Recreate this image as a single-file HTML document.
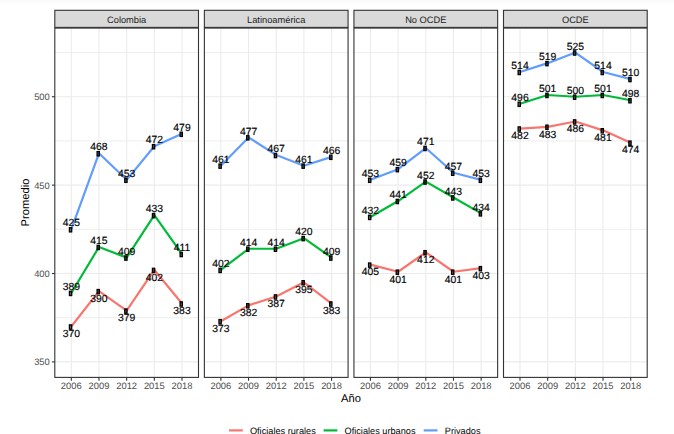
<!DOCTYPE html>
<html><head><meta charset="utf-8"><style>
html,body{margin:0;padding:0;background:#fff;}
svg{display:block;}
text{font-family:"Liberation Sans",sans-serif;text-rendering:geometricPrecision;}
</style></head><body>
<svg width="674" height="434" viewBox="0 0 674 434">
<rect x="0" y="0" width="674" height="434" fill="#fff"/>
<rect x="0" y="0" width="674" height="1" fill="#fafafa"/><rect x="0" y="1" width="674" height="3" fill="#fcfcfc"/>
<line x1="54.80" x2="198.50" y1="317.71" y2="317.71" stroke="#EBEBEB" stroke-width="0.9"/>
<line x1="54.80" x2="198.50" y1="229.32" y2="229.32" stroke="#EBEBEB" stroke-width="0.9"/>
<line x1="54.80" x2="198.50" y1="140.94" y2="140.94" stroke="#EBEBEB" stroke-width="0.9"/>
<line x1="54.80" x2="198.50" y1="52.55" y2="52.55" stroke="#EBEBEB" stroke-width="0.9"/>
<line x1="54.80" x2="198.50" y1="361.90" y2="361.90" stroke="#EBEBEB" stroke-width="1.1"/>
<line x1="54.80" x2="198.50" y1="273.51" y2="273.51" stroke="#EBEBEB" stroke-width="1.1"/>
<line x1="54.80" x2="198.50" y1="185.13" y2="185.13" stroke="#EBEBEB" stroke-width="1.1"/>
<line x1="54.80" x2="198.50" y1="96.74" y2="96.74" stroke="#EBEBEB" stroke-width="1.1"/>
<line x1="71.30" x2="71.30" y1="28.10" y2="377.40" stroke="#EBEBEB" stroke-width="1.1"/>
<line x1="98.97" x2="98.97" y1="28.10" y2="377.40" stroke="#EBEBEB" stroke-width="1.1"/>
<line x1="126.65" x2="126.65" y1="28.10" y2="377.40" stroke="#EBEBEB" stroke-width="1.1"/>
<line x1="154.32" x2="154.32" y1="28.10" y2="377.40" stroke="#EBEBEB" stroke-width="1.1"/>
<line x1="182.00" x2="182.00" y1="28.10" y2="377.40" stroke="#EBEBEB" stroke-width="1.1"/>
<polyline points="71.30,326.55 98.97,291.19 126.65,310.64 154.32,269.98 182.00,303.57" fill="none" stroke="#F8766D" stroke-width="2.2" stroke-linejoin="round" stroke-linecap="butt"/>
<polyline points="71.30,292.96 98.97,247.00 126.65,257.61 154.32,215.18 182.00,254.07" fill="none" stroke="#00BA38" stroke-width="2.2" stroke-linejoin="round" stroke-linecap="butt"/>
<polyline points="71.30,229.32 98.97,153.31 126.65,179.83 154.32,146.24 182.00,133.87" fill="none" stroke="#619CFF" stroke-width="2.2" stroke-linejoin="round" stroke-linecap="butt"/>
<rect x="69.40" y="324.85" width="2.3" height="4.3" fill="#000" fill-opacity="0.6" stroke="#000" stroke-width="1.25"/>
<rect x="97.07" y="289.49" width="2.3" height="4.3" fill="#000" fill-opacity="0.6" stroke="#000" stroke-width="1.25"/>
<rect x="124.75" y="308.94" width="2.3" height="4.3" fill="#000" fill-opacity="0.6" stroke="#000" stroke-width="1.25"/>
<rect x="152.42" y="268.28" width="2.3" height="4.3" fill="#000" fill-opacity="0.6" stroke="#000" stroke-width="1.25"/>
<rect x="180.10" y="301.87" width="2.3" height="4.3" fill="#000" fill-opacity="0.6" stroke="#000" stroke-width="1.25"/>
<rect x="69.40" y="291.26" width="2.3" height="4.3" fill="#000" fill-opacity="0.6" stroke="#000" stroke-width="1.25"/>
<rect x="97.07" y="245.30" width="2.3" height="4.3" fill="#000" fill-opacity="0.6" stroke="#000" stroke-width="1.25"/>
<rect x="124.75" y="255.91" width="2.3" height="4.3" fill="#000" fill-opacity="0.6" stroke="#000" stroke-width="1.25"/>
<rect x="152.42" y="213.48" width="2.3" height="4.3" fill="#000" fill-opacity="0.6" stroke="#000" stroke-width="1.25"/>
<rect x="180.10" y="252.37" width="2.3" height="4.3" fill="#000" fill-opacity="0.6" stroke="#000" stroke-width="1.25"/>
<rect x="69.40" y="227.62" width="2.3" height="4.3" fill="#000" fill-opacity="0.6" stroke="#000" stroke-width="1.25"/>
<rect x="97.07" y="151.61" width="2.3" height="4.3" fill="#000" fill-opacity="0.6" stroke="#000" stroke-width="1.25"/>
<rect x="124.75" y="178.13" width="2.3" height="4.3" fill="#000" fill-opacity="0.6" stroke="#000" stroke-width="1.25"/>
<rect x="152.42" y="144.54" width="2.3" height="4.3" fill="#000" fill-opacity="0.6" stroke="#000" stroke-width="1.25"/>
<rect x="180.10" y="132.17" width="2.3" height="4.3" fill="#000" fill-opacity="0.6" stroke="#000" stroke-width="1.25"/>
<text x="71.30" y="337" font-size="10.4" text-rendering="geometricPrecision" text-anchor="middle" fill="#000" stroke="#000" stroke-width="0.15">370</text>
<text x="98.97" y="302" font-size="10.4" text-rendering="geometricPrecision" text-anchor="middle" fill="#000" stroke="#000" stroke-width="0.15">390</text>
<text x="126.65" y="321" font-size="10.4" text-rendering="geometricPrecision" text-anchor="middle" fill="#000" stroke="#000" stroke-width="0.15">379</text>
<text x="154.32" y="281" font-size="10.4" text-rendering="geometricPrecision" text-anchor="middle" fill="#000" stroke="#000" stroke-width="0.15">402</text>
<text x="182.00" y="314" font-size="10.4" text-rendering="geometricPrecision" text-anchor="middle" fill="#000" stroke="#000" stroke-width="0.15">383</text>
<text x="71.30" y="290" font-size="10.4" text-rendering="geometricPrecision" text-anchor="middle" fill="#000" stroke="#000" stroke-width="0.15">389</text>
<text x="98.97" y="244" font-size="10.4" text-rendering="geometricPrecision" text-anchor="middle" fill="#000" stroke="#000" stroke-width="0.15">415</text>
<text x="126.65" y="255" font-size="10.4" text-rendering="geometricPrecision" text-anchor="middle" fill="#000" stroke="#000" stroke-width="0.15">409</text>
<text x="154.32" y="212" font-size="10.4" text-rendering="geometricPrecision" text-anchor="middle" fill="#000" stroke="#000" stroke-width="0.15">433</text>
<text x="182.00" y="251" font-size="10.4" text-rendering="geometricPrecision" text-anchor="middle" fill="#000" stroke="#000" stroke-width="0.15">411</text>
<text x="71.30" y="226" font-size="10.4" text-rendering="geometricPrecision" text-anchor="middle" fill="#000" stroke="#000" stroke-width="0.15">425</text>
<text x="98.97" y="150" font-size="10.4" text-rendering="geometricPrecision" text-anchor="middle" fill="#000" stroke="#000" stroke-width="0.15">468</text>
<text x="126.65" y="177" font-size="10.4" text-rendering="geometricPrecision" text-anchor="middle" fill="#000" stroke="#000" stroke-width="0.15">453</text>
<text x="154.32" y="143" font-size="10.4" text-rendering="geometricPrecision" text-anchor="middle" fill="#000" stroke="#000" stroke-width="0.15">472</text>
<text x="182.00" y="131" font-size="10.4" text-rendering="geometricPrecision" text-anchor="middle" fill="#000" stroke="#000" stroke-width="0.15">479</text>
<rect x="54.80" y="28.10" width="143.70" height="349.30" fill="none" stroke="#333333" stroke-width="1.1"/>
<rect x="54.80" y="10.30" width="143.70" height="17.10" fill="#D9D9D9" stroke="#333333" stroke-width="1.1"/>
<text x="126.65" y="23.0" font-size="9.3" text-rendering="geometricPrecision" text-anchor="middle" fill="#1A1A1A">Colombia</text>
<line x1="71.30" x2="71.30" y1="377.40" y2="380.70" stroke="#333333" stroke-width="1.1"/>
<text x="71.30" y="388.7" font-size="9.4" text-anchor="middle" fill="#4D4D4D">2006</text>
<line x1="98.97" x2="98.97" y1="377.40" y2="380.70" stroke="#333333" stroke-width="1.1"/>
<text x="98.97" y="388.7" font-size="9.4" text-anchor="middle" fill="#4D4D4D">2009</text>
<line x1="126.65" x2="126.65" y1="377.40" y2="380.70" stroke="#333333" stroke-width="1.1"/>
<text x="126.65" y="388.7" font-size="9.4" text-anchor="middle" fill="#4D4D4D">2012</text>
<line x1="154.32" x2="154.32" y1="377.40" y2="380.70" stroke="#333333" stroke-width="1.1"/>
<text x="154.32" y="388.7" font-size="9.4" text-anchor="middle" fill="#4D4D4D">2015</text>
<line x1="182.00" x2="182.00" y1="377.40" y2="380.70" stroke="#333333" stroke-width="1.1"/>
<text x="182.00" y="388.7" font-size="9.4" text-anchor="middle" fill="#4D4D4D">2018</text>
<line x1="204.37" x2="348.07" y1="317.71" y2="317.71" stroke="#EBEBEB" stroke-width="0.9"/>
<line x1="204.37" x2="348.07" y1="229.32" y2="229.32" stroke="#EBEBEB" stroke-width="0.9"/>
<line x1="204.37" x2="348.07" y1="140.94" y2="140.94" stroke="#EBEBEB" stroke-width="0.9"/>
<line x1="204.37" x2="348.07" y1="52.55" y2="52.55" stroke="#EBEBEB" stroke-width="0.9"/>
<line x1="204.37" x2="348.07" y1="361.90" y2="361.90" stroke="#EBEBEB" stroke-width="1.1"/>
<line x1="204.37" x2="348.07" y1="273.51" y2="273.51" stroke="#EBEBEB" stroke-width="1.1"/>
<line x1="204.37" x2="348.07" y1="185.13" y2="185.13" stroke="#EBEBEB" stroke-width="1.1"/>
<line x1="204.37" x2="348.07" y1="96.74" y2="96.74" stroke="#EBEBEB" stroke-width="1.1"/>
<line x1="220.87" x2="220.87" y1="28.10" y2="377.40" stroke="#EBEBEB" stroke-width="1.1"/>
<line x1="248.55" x2="248.55" y1="28.10" y2="377.40" stroke="#EBEBEB" stroke-width="1.1"/>
<line x1="276.22" x2="276.22" y1="28.10" y2="377.40" stroke="#EBEBEB" stroke-width="1.1"/>
<line x1="303.90" x2="303.90" y1="28.10" y2="377.40" stroke="#EBEBEB" stroke-width="1.1"/>
<line x1="331.57" x2="331.57" y1="28.10" y2="377.40" stroke="#EBEBEB" stroke-width="1.1"/>
<polyline points="220.87,321.24 248.55,305.33 276.22,296.50 303.90,282.35 331.57,303.57" fill="none" stroke="#F8766D" stroke-width="2.2" stroke-linejoin="round" stroke-linecap="butt"/>
<polyline points="220.87,269.98 248.55,248.77 276.22,248.77 303.90,238.16 331.57,257.61" fill="none" stroke="#00BA38" stroke-width="2.2" stroke-linejoin="round" stroke-linecap="butt"/>
<polyline points="220.87,165.69 248.55,137.40 276.22,155.08 303.90,165.69 331.57,156.85" fill="none" stroke="#619CFF" stroke-width="2.2" stroke-linejoin="round" stroke-linecap="butt"/>
<rect x="218.97" y="319.54" width="2.3" height="4.3" fill="#000" fill-opacity="0.6" stroke="#000" stroke-width="1.25"/>
<rect x="246.65" y="303.63" width="2.3" height="4.3" fill="#000" fill-opacity="0.6" stroke="#000" stroke-width="1.25"/>
<rect x="274.32" y="294.80" width="2.3" height="4.3" fill="#000" fill-opacity="0.6" stroke="#000" stroke-width="1.25"/>
<rect x="302.00" y="280.65" width="2.3" height="4.3" fill="#000" fill-opacity="0.6" stroke="#000" stroke-width="1.25"/>
<rect x="329.67" y="301.87" width="2.3" height="4.3" fill="#000" fill-opacity="0.6" stroke="#000" stroke-width="1.25"/>
<rect x="218.97" y="268.28" width="2.3" height="4.3" fill="#000" fill-opacity="0.6" stroke="#000" stroke-width="1.25"/>
<rect x="246.65" y="247.07" width="2.3" height="4.3" fill="#000" fill-opacity="0.6" stroke="#000" stroke-width="1.25"/>
<rect x="274.32" y="247.07" width="2.3" height="4.3" fill="#000" fill-opacity="0.6" stroke="#000" stroke-width="1.25"/>
<rect x="302.00" y="236.46" width="2.3" height="4.3" fill="#000" fill-opacity="0.6" stroke="#000" stroke-width="1.25"/>
<rect x="329.67" y="255.91" width="2.3" height="4.3" fill="#000" fill-opacity="0.6" stroke="#000" stroke-width="1.25"/>
<rect x="218.97" y="163.99" width="2.3" height="4.3" fill="#000" fill-opacity="0.6" stroke="#000" stroke-width="1.25"/>
<rect x="246.65" y="135.70" width="2.3" height="4.3" fill="#000" fill-opacity="0.6" stroke="#000" stroke-width="1.25"/>
<rect x="274.32" y="153.38" width="2.3" height="4.3" fill="#000" fill-opacity="0.6" stroke="#000" stroke-width="1.25"/>
<rect x="302.00" y="163.99" width="2.3" height="4.3" fill="#000" fill-opacity="0.6" stroke="#000" stroke-width="1.25"/>
<rect x="329.67" y="155.15" width="2.3" height="4.3" fill="#000" fill-opacity="0.6" stroke="#000" stroke-width="1.25"/>
<text x="220.87" y="332" font-size="10.4" text-rendering="geometricPrecision" text-anchor="middle" fill="#000" stroke="#000" stroke-width="0.15">373</text>
<text x="248.55" y="316" font-size="10.4" text-rendering="geometricPrecision" text-anchor="middle" fill="#000" stroke="#000" stroke-width="0.15">382</text>
<text x="276.22" y="307" font-size="10.4" text-rendering="geometricPrecision" text-anchor="middle" fill="#000" stroke="#000" stroke-width="0.15">387</text>
<text x="303.90" y="293" font-size="10.4" text-rendering="geometricPrecision" text-anchor="middle" fill="#000" stroke="#000" stroke-width="0.15">395</text>
<text x="331.57" y="314" font-size="10.4" text-rendering="geometricPrecision" text-anchor="middle" fill="#000" stroke="#000" stroke-width="0.15">383</text>
<text x="220.87" y="267" font-size="10.4" text-rendering="geometricPrecision" text-anchor="middle" fill="#000" stroke="#000" stroke-width="0.15">402</text>
<text x="248.55" y="246" font-size="10.4" text-rendering="geometricPrecision" text-anchor="middle" fill="#000" stroke="#000" stroke-width="0.15">414</text>
<text x="276.22" y="246" font-size="10.4" text-rendering="geometricPrecision" text-anchor="middle" fill="#000" stroke="#000" stroke-width="0.15">414</text>
<text x="303.90" y="235" font-size="10.4" text-rendering="geometricPrecision" text-anchor="middle" fill="#000" stroke="#000" stroke-width="0.15">420</text>
<text x="331.57" y="255" font-size="10.4" text-rendering="geometricPrecision" text-anchor="middle" fill="#000" stroke="#000" stroke-width="0.15">409</text>
<text x="220.87" y="163" font-size="10.4" text-rendering="geometricPrecision" text-anchor="middle" fill="#000" stroke="#000" stroke-width="0.15">461</text>
<text x="248.55" y="135" font-size="10.4" text-rendering="geometricPrecision" text-anchor="middle" fill="#000" stroke="#000" stroke-width="0.15">477</text>
<text x="276.22" y="152" font-size="10.4" text-rendering="geometricPrecision" text-anchor="middle" fill="#000" stroke="#000" stroke-width="0.15">467</text>
<text x="303.90" y="163" font-size="10.4" text-rendering="geometricPrecision" text-anchor="middle" fill="#000" stroke="#000" stroke-width="0.15">461</text>
<text x="331.57" y="154" font-size="10.4" text-rendering="geometricPrecision" text-anchor="middle" fill="#000" stroke="#000" stroke-width="0.15">466</text>
<rect x="204.37" y="28.10" width="143.70" height="349.30" fill="none" stroke="#333333" stroke-width="1.1"/>
<rect x="204.37" y="10.30" width="143.70" height="17.10" fill="#D9D9D9" stroke="#333333" stroke-width="1.1"/>
<text x="276.22" y="23.0" font-size="9.3" text-rendering="geometricPrecision" text-anchor="middle" fill="#1A1A1A">Latinoamérica</text>
<line x1="220.87" x2="220.87" y1="377.40" y2="380.70" stroke="#333333" stroke-width="1.1"/>
<text x="220.87" y="388.7" font-size="9.4" text-anchor="middle" fill="#4D4D4D">2006</text>
<line x1="248.55" x2="248.55" y1="377.40" y2="380.70" stroke="#333333" stroke-width="1.1"/>
<text x="248.55" y="388.7" font-size="9.4" text-anchor="middle" fill="#4D4D4D">2009</text>
<line x1="276.22" x2="276.22" y1="377.40" y2="380.70" stroke="#333333" stroke-width="1.1"/>
<text x="276.22" y="388.7" font-size="9.4" text-anchor="middle" fill="#4D4D4D">2012</text>
<line x1="303.90" x2="303.90" y1="377.40" y2="380.70" stroke="#333333" stroke-width="1.1"/>
<text x="303.90" y="388.7" font-size="9.4" text-anchor="middle" fill="#4D4D4D">2015</text>
<line x1="331.57" x2="331.57" y1="377.40" y2="380.70" stroke="#333333" stroke-width="1.1"/>
<text x="331.57" y="388.7" font-size="9.4" text-anchor="middle" fill="#4D4D4D">2018</text>
<line x1="353.94" x2="497.64" y1="317.71" y2="317.71" stroke="#EBEBEB" stroke-width="0.9"/>
<line x1="353.94" x2="497.64" y1="229.32" y2="229.32" stroke="#EBEBEB" stroke-width="0.9"/>
<line x1="353.94" x2="497.64" y1="140.94" y2="140.94" stroke="#EBEBEB" stroke-width="0.9"/>
<line x1="353.94" x2="497.64" y1="52.55" y2="52.55" stroke="#EBEBEB" stroke-width="0.9"/>
<line x1="353.94" x2="497.64" y1="361.90" y2="361.90" stroke="#EBEBEB" stroke-width="1.1"/>
<line x1="353.94" x2="497.64" y1="273.51" y2="273.51" stroke="#EBEBEB" stroke-width="1.1"/>
<line x1="353.94" x2="497.64" y1="185.13" y2="185.13" stroke="#EBEBEB" stroke-width="1.1"/>
<line x1="353.94" x2="497.64" y1="96.74" y2="96.74" stroke="#EBEBEB" stroke-width="1.1"/>
<line x1="370.44" x2="370.44" y1="28.10" y2="377.40" stroke="#EBEBEB" stroke-width="1.1"/>
<line x1="398.11" x2="398.11" y1="28.10" y2="377.40" stroke="#EBEBEB" stroke-width="1.1"/>
<line x1="425.79" x2="425.79" y1="28.10" y2="377.40" stroke="#EBEBEB" stroke-width="1.1"/>
<line x1="453.46" x2="453.46" y1="28.10" y2="377.40" stroke="#EBEBEB" stroke-width="1.1"/>
<line x1="481.14" x2="481.14" y1="28.10" y2="377.40" stroke="#EBEBEB" stroke-width="1.1"/>
<polyline points="370.44,264.68 398.11,271.75 425.79,252.30 453.46,271.75 481.14,268.21" fill="none" stroke="#F8766D" stroke-width="2.2" stroke-linejoin="round" stroke-linecap="butt"/>
<polyline points="370.44,216.95 398.11,201.04 425.79,181.59 453.46,197.50 481.14,213.41" fill="none" stroke="#00BA38" stroke-width="2.2" stroke-linejoin="round" stroke-linecap="butt"/>
<polyline points="370.44,179.83 398.11,169.22 425.79,148.01 453.46,172.76 481.14,179.83" fill="none" stroke="#619CFF" stroke-width="2.2" stroke-linejoin="round" stroke-linecap="butt"/>
<rect x="368.54" y="262.98" width="2.3" height="4.3" fill="#000" fill-opacity="0.6" stroke="#000" stroke-width="1.25"/>
<rect x="396.21" y="270.05" width="2.3" height="4.3" fill="#000" fill-opacity="0.6" stroke="#000" stroke-width="1.25"/>
<rect x="423.89" y="250.60" width="2.3" height="4.3" fill="#000" fill-opacity="0.6" stroke="#000" stroke-width="1.25"/>
<rect x="451.56" y="270.05" width="2.3" height="4.3" fill="#000" fill-opacity="0.6" stroke="#000" stroke-width="1.25"/>
<rect x="479.24" y="266.51" width="2.3" height="4.3" fill="#000" fill-opacity="0.6" stroke="#000" stroke-width="1.25"/>
<rect x="368.54" y="215.25" width="2.3" height="4.3" fill="#000" fill-opacity="0.6" stroke="#000" stroke-width="1.25"/>
<rect x="396.21" y="199.34" width="2.3" height="4.3" fill="#000" fill-opacity="0.6" stroke="#000" stroke-width="1.25"/>
<rect x="423.89" y="179.89" width="2.3" height="4.3" fill="#000" fill-opacity="0.6" stroke="#000" stroke-width="1.25"/>
<rect x="451.56" y="195.80" width="2.3" height="4.3" fill="#000" fill-opacity="0.6" stroke="#000" stroke-width="1.25"/>
<rect x="479.24" y="211.71" width="2.3" height="4.3" fill="#000" fill-opacity="0.6" stroke="#000" stroke-width="1.25"/>
<rect x="368.54" y="178.13" width="2.3" height="4.3" fill="#000" fill-opacity="0.6" stroke="#000" stroke-width="1.25"/>
<rect x="396.21" y="167.52" width="2.3" height="4.3" fill="#000" fill-opacity="0.6" stroke="#000" stroke-width="1.25"/>
<rect x="423.89" y="146.31" width="2.3" height="4.3" fill="#000" fill-opacity="0.6" stroke="#000" stroke-width="1.25"/>
<rect x="451.56" y="171.06" width="2.3" height="4.3" fill="#000" fill-opacity="0.6" stroke="#000" stroke-width="1.25"/>
<rect x="479.24" y="178.13" width="2.3" height="4.3" fill="#000" fill-opacity="0.6" stroke="#000" stroke-width="1.25"/>
<text x="370.44" y="275" font-size="10.4" text-rendering="geometricPrecision" text-anchor="middle" fill="#000" stroke="#000" stroke-width="0.15">405</text>
<text x="398.11" y="283" font-size="10.4" text-rendering="geometricPrecision" text-anchor="middle" fill="#000" stroke="#000" stroke-width="0.15">401</text>
<text x="425.79" y="263" font-size="10.4" text-rendering="geometricPrecision" text-anchor="middle" fill="#000" stroke="#000" stroke-width="0.15">412</text>
<text x="453.46" y="283" font-size="10.4" text-rendering="geometricPrecision" text-anchor="middle" fill="#000" stroke="#000" stroke-width="0.15">401</text>
<text x="481.14" y="279" font-size="10.4" text-rendering="geometricPrecision" text-anchor="middle" fill="#000" stroke="#000" stroke-width="0.15">403</text>
<text x="370.44" y="214" font-size="10.4" text-rendering="geometricPrecision" text-anchor="middle" fill="#000" stroke="#000" stroke-width="0.15">432</text>
<text x="398.11" y="198" font-size="10.4" text-rendering="geometricPrecision" text-anchor="middle" fill="#000" stroke="#000" stroke-width="0.15">441</text>
<text x="425.79" y="179" font-size="10.4" text-rendering="geometricPrecision" text-anchor="middle" fill="#000" stroke="#000" stroke-width="0.15">452</text>
<text x="453.46" y="195" font-size="10.4" text-rendering="geometricPrecision" text-anchor="middle" fill="#000" stroke="#000" stroke-width="0.15">443</text>
<text x="481.14" y="211" font-size="10.4" text-rendering="geometricPrecision" text-anchor="middle" fill="#000" stroke="#000" stroke-width="0.15">434</text>
<text x="370.44" y="177" font-size="10.4" text-rendering="geometricPrecision" text-anchor="middle" fill="#000" stroke="#000" stroke-width="0.15">453</text>
<text x="398.11" y="166" font-size="10.4" text-rendering="geometricPrecision" text-anchor="middle" fill="#000" stroke="#000" stroke-width="0.15">459</text>
<text x="425.79" y="145" font-size="10.4" text-rendering="geometricPrecision" text-anchor="middle" fill="#000" stroke="#000" stroke-width="0.15">471</text>
<text x="453.46" y="170" font-size="10.4" text-rendering="geometricPrecision" text-anchor="middle" fill="#000" stroke="#000" stroke-width="0.15">457</text>
<text x="481.14" y="177" font-size="10.4" text-rendering="geometricPrecision" text-anchor="middle" fill="#000" stroke="#000" stroke-width="0.15">453</text>
<rect x="353.94" y="28.10" width="143.70" height="349.30" fill="none" stroke="#333333" stroke-width="1.1"/>
<rect x="353.94" y="10.30" width="143.70" height="17.10" fill="#D9D9D9" stroke="#333333" stroke-width="1.1"/>
<text x="425.79" y="23.0" font-size="9.3" text-rendering="geometricPrecision" text-anchor="middle" fill="#1A1A1A">No OCDE</text>
<line x1="370.44" x2="370.44" y1="377.40" y2="380.70" stroke="#333333" stroke-width="1.1"/>
<text x="370.44" y="388.7" font-size="9.4" text-anchor="middle" fill="#4D4D4D">2006</text>
<line x1="398.11" x2="398.11" y1="377.40" y2="380.70" stroke="#333333" stroke-width="1.1"/>
<text x="398.11" y="388.7" font-size="9.4" text-anchor="middle" fill="#4D4D4D">2009</text>
<line x1="425.79" x2="425.79" y1="377.40" y2="380.70" stroke="#333333" stroke-width="1.1"/>
<text x="425.79" y="388.7" font-size="9.4" text-anchor="middle" fill="#4D4D4D">2012</text>
<line x1="453.46" x2="453.46" y1="377.40" y2="380.70" stroke="#333333" stroke-width="1.1"/>
<text x="453.46" y="388.7" font-size="9.4" text-anchor="middle" fill="#4D4D4D">2015</text>
<line x1="481.14" x2="481.14" y1="377.40" y2="380.70" stroke="#333333" stroke-width="1.1"/>
<text x="481.14" y="388.7" font-size="9.4" text-anchor="middle" fill="#4D4D4D">2018</text>
<line x1="503.51" x2="647.21" y1="317.71" y2="317.71" stroke="#EBEBEB" stroke-width="0.9"/>
<line x1="503.51" x2="647.21" y1="229.32" y2="229.32" stroke="#EBEBEB" stroke-width="0.9"/>
<line x1="503.51" x2="647.21" y1="140.94" y2="140.94" stroke="#EBEBEB" stroke-width="0.9"/>
<line x1="503.51" x2="647.21" y1="52.55" y2="52.55" stroke="#EBEBEB" stroke-width="0.9"/>
<line x1="503.51" x2="647.21" y1="361.90" y2="361.90" stroke="#EBEBEB" stroke-width="1.1"/>
<line x1="503.51" x2="647.21" y1="273.51" y2="273.51" stroke="#EBEBEB" stroke-width="1.1"/>
<line x1="503.51" x2="647.21" y1="185.13" y2="185.13" stroke="#EBEBEB" stroke-width="1.1"/>
<line x1="503.51" x2="647.21" y1="96.74" y2="96.74" stroke="#EBEBEB" stroke-width="1.1"/>
<line x1="520.01" x2="520.01" y1="28.10" y2="377.40" stroke="#EBEBEB" stroke-width="1.1"/>
<line x1="547.69" x2="547.69" y1="28.10" y2="377.40" stroke="#EBEBEB" stroke-width="1.1"/>
<line x1="575.36" x2="575.36" y1="28.10" y2="377.40" stroke="#EBEBEB" stroke-width="1.1"/>
<line x1="603.03" x2="603.03" y1="28.10" y2="377.40" stroke="#EBEBEB" stroke-width="1.1"/>
<line x1="630.71" x2="630.71" y1="28.10" y2="377.40" stroke="#EBEBEB" stroke-width="1.1"/>
<polyline points="520.01,128.56 547.69,126.80 575.36,121.49 603.03,130.33 630.71,142.71" fill="none" stroke="#F8766D" stroke-width="2.2" stroke-linejoin="round" stroke-linecap="butt"/>
<polyline points="520.01,103.82 547.69,94.98 575.36,96.74 603.03,94.98 630.71,100.28" fill="none" stroke="#00BA38" stroke-width="2.2" stroke-linejoin="round" stroke-linecap="butt"/>
<polyline points="520.01,72.00 547.69,63.16 575.36,52.55 603.03,72.00 630.71,79.07" fill="none" stroke="#619CFF" stroke-width="2.2" stroke-linejoin="round" stroke-linecap="butt"/>
<rect x="518.11" y="126.86" width="2.3" height="4.3" fill="#000" fill-opacity="0.6" stroke="#000" stroke-width="1.25"/>
<rect x="545.79" y="125.10" width="2.3" height="4.3" fill="#000" fill-opacity="0.6" stroke="#000" stroke-width="1.25"/>
<rect x="573.46" y="119.79" width="2.3" height="4.3" fill="#000" fill-opacity="0.6" stroke="#000" stroke-width="1.25"/>
<rect x="601.13" y="128.63" width="2.3" height="4.3" fill="#000" fill-opacity="0.6" stroke="#000" stroke-width="1.25"/>
<rect x="628.81" y="141.01" width="2.3" height="4.3" fill="#000" fill-opacity="0.6" stroke="#000" stroke-width="1.25"/>
<rect x="518.11" y="102.12" width="2.3" height="4.3" fill="#000" fill-opacity="0.6" stroke="#000" stroke-width="1.25"/>
<rect x="545.79" y="93.28" width="2.3" height="4.3" fill="#000" fill-opacity="0.6" stroke="#000" stroke-width="1.25"/>
<rect x="573.46" y="95.04" width="2.3" height="4.3" fill="#000" fill-opacity="0.6" stroke="#000" stroke-width="1.25"/>
<rect x="601.13" y="93.28" width="2.3" height="4.3" fill="#000" fill-opacity="0.6" stroke="#000" stroke-width="1.25"/>
<rect x="628.81" y="98.58" width="2.3" height="4.3" fill="#000" fill-opacity="0.6" stroke="#000" stroke-width="1.25"/>
<rect x="518.11" y="70.30" width="2.3" height="4.3" fill="#000" fill-opacity="0.6" stroke="#000" stroke-width="1.25"/>
<rect x="545.79" y="61.46" width="2.3" height="4.3" fill="#000" fill-opacity="0.6" stroke="#000" stroke-width="1.25"/>
<rect x="573.46" y="50.85" width="2.3" height="4.3" fill="#000" fill-opacity="0.6" stroke="#000" stroke-width="1.25"/>
<rect x="601.13" y="70.30" width="2.3" height="4.3" fill="#000" fill-opacity="0.6" stroke="#000" stroke-width="1.25"/>
<rect x="628.81" y="77.37" width="2.3" height="4.3" fill="#000" fill-opacity="0.6" stroke="#000" stroke-width="1.25"/>
<text x="520.01" y="139" font-size="10.4" text-rendering="geometricPrecision" text-anchor="middle" fill="#000" stroke="#000" stroke-width="0.15">482</text>
<text x="547.69" y="138" font-size="10.4" text-rendering="geometricPrecision" text-anchor="middle" fill="#000" stroke="#000" stroke-width="0.15">483</text>
<text x="575.36" y="132" font-size="10.4" text-rendering="geometricPrecision" text-anchor="middle" fill="#000" stroke="#000" stroke-width="0.15">486</text>
<text x="603.03" y="141" font-size="10.4" text-rendering="geometricPrecision" text-anchor="middle" fill="#000" stroke="#000" stroke-width="0.15">481</text>
<text x="630.71" y="153" font-size="10.4" text-rendering="geometricPrecision" text-anchor="middle" fill="#000" stroke="#000" stroke-width="0.15">474</text>
<text x="520.01" y="101" font-size="10.4" text-rendering="geometricPrecision" text-anchor="middle" fill="#000" stroke="#000" stroke-width="0.15">496</text>
<text x="547.69" y="92" font-size="10.4" text-rendering="geometricPrecision" text-anchor="middle" fill="#000" stroke="#000" stroke-width="0.15">501</text>
<text x="575.36" y="94" font-size="10.4" text-rendering="geometricPrecision" text-anchor="middle" fill="#000" stroke="#000" stroke-width="0.15">500</text>
<text x="603.03" y="92" font-size="10.4" text-rendering="geometricPrecision" text-anchor="middle" fill="#000" stroke="#000" stroke-width="0.15">501</text>
<text x="630.71" y="97" font-size="10.4" text-rendering="geometricPrecision" text-anchor="middle" fill="#000" stroke="#000" stroke-width="0.15">498</text>
<text x="520.01" y="69" font-size="10.4" text-rendering="geometricPrecision" text-anchor="middle" fill="#000" stroke="#000" stroke-width="0.15">514</text>
<text x="547.69" y="60" font-size="10.4" text-rendering="geometricPrecision" text-anchor="middle" fill="#000" stroke="#000" stroke-width="0.15">519</text>
<text x="575.36" y="50" font-size="10.4" text-rendering="geometricPrecision" text-anchor="middle" fill="#000" stroke="#000" stroke-width="0.15">525</text>
<text x="603.03" y="69" font-size="10.4" text-rendering="geometricPrecision" text-anchor="middle" fill="#000" stroke="#000" stroke-width="0.15">514</text>
<text x="630.71" y="76" font-size="10.4" text-rendering="geometricPrecision" text-anchor="middle" fill="#000" stroke="#000" stroke-width="0.15">510</text>
<rect x="503.51" y="28.10" width="143.70" height="349.30" fill="none" stroke="#333333" stroke-width="1.1"/>
<rect x="503.51" y="10.30" width="143.70" height="17.10" fill="#D9D9D9" stroke="#333333" stroke-width="1.1"/>
<text x="575.36" y="23.0" font-size="9.3" text-rendering="geometricPrecision" text-anchor="middle" fill="#1A1A1A">OCDE</text>
<line x1="520.01" x2="520.01" y1="377.40" y2="380.70" stroke="#333333" stroke-width="1.1"/>
<text x="520.01" y="388.7" font-size="9.4" text-anchor="middle" fill="#4D4D4D">2006</text>
<line x1="547.69" x2="547.69" y1="377.40" y2="380.70" stroke="#333333" stroke-width="1.1"/>
<text x="547.69" y="388.7" font-size="9.4" text-anchor="middle" fill="#4D4D4D">2009</text>
<line x1="575.36" x2="575.36" y1="377.40" y2="380.70" stroke="#333333" stroke-width="1.1"/>
<text x="575.36" y="388.7" font-size="9.4" text-anchor="middle" fill="#4D4D4D">2012</text>
<line x1="603.03" x2="603.03" y1="377.40" y2="380.70" stroke="#333333" stroke-width="1.1"/>
<text x="603.03" y="388.7" font-size="9.4" text-anchor="middle" fill="#4D4D4D">2015</text>
<line x1="630.71" x2="630.71" y1="377.40" y2="380.70" stroke="#333333" stroke-width="1.1"/>
<text x="630.71" y="388.7" font-size="9.4" text-anchor="middle" fill="#4D4D4D">2018</text>
<line x1="51.90" x2="54.80" y1="361.90" y2="361.90" stroke="#333333" stroke-width="1.1"/>
<text x="49.8" y="365.30" font-size="9.4" text-anchor="end" fill="#4D4D4D">350</text>
<line x1="51.90" x2="54.80" y1="273.51" y2="273.51" stroke="#333333" stroke-width="1.1"/>
<text x="49.8" y="276.91" font-size="9.4" text-anchor="end" fill="#4D4D4D">400</text>
<line x1="51.90" x2="54.80" y1="185.13" y2="185.13" stroke="#333333" stroke-width="1.1"/>
<text x="49.8" y="188.53" font-size="9.4" text-anchor="end" fill="#4D4D4D">450</text>
<line x1="51.90" x2="54.80" y1="96.74" y2="96.74" stroke="#333333" stroke-width="1.1"/>
<text x="49.8" y="100.14" font-size="9.4" text-anchor="end" fill="#4D4D4D">500</text>
<text x="351.00" y="401.7" font-size="11.2" text-anchor="middle" fill="#000">Año</text>
<text transform="translate(29.3,202.5) rotate(-90)" x="0" y="0" font-size="11.2" text-anchor="middle" fill="#000">Promedio</text>
<line x1="229.00" x2="242.80" y1="430.4" y2="430.4" stroke="#F8766D" stroke-width="2.2"/>
<text x="249.90" y="433.9" font-size="9.2" fill="#000">Oficiales rurales</text>
<line x1="323.60" x2="337.40" y1="430.4" y2="430.4" stroke="#00BA38" stroke-width="2.2"/>
<text x="344.50" y="433.9" font-size="9.2" fill="#000">Oficiales urbanos</text>
<line x1="423.70" x2="437.50" y1="430.4" y2="430.4" stroke="#619CFF" stroke-width="2.2"/>
<text x="444.80" y="433.9" font-size="9.2" fill="#000">Privados</text>
</svg></body></html>
